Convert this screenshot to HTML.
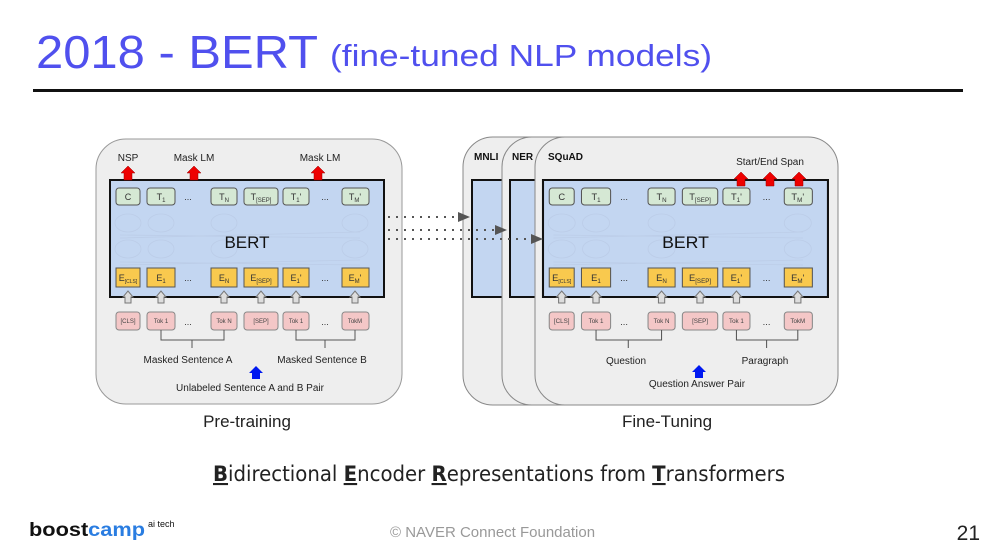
<!DOCTYPE html>
<html><head><meta charset="utf-8"><style>
body{margin:0;width:998px;height:553px;background:#fff;overflow:hidden;font-family:"Liberation Sans",sans-serif;}
</style></head><body>
<svg width="998" height="553" viewBox="0 0 998 553" xmlns="http://www.w3.org/2000/svg" font-family="Liberation Sans, sans-serif">
<defs>
<g id="bert">
  <rect x="0" y="0" width="274" height="117" fill="#c3d6f1" stroke="#111" stroke-width="2"/>
  <g fill="none" stroke="#bccde8" stroke-width="0.8">
    <ellipse cx="18" cy="43" rx="13" ry="9"/><ellipse cx="51" cy="43" rx="13" ry="9"/><ellipse cx="114" cy="43" rx="13" ry="9"/><ellipse cx="245" cy="43" rx="13" ry="9"/>
    <ellipse cx="18" cy="69" rx="13" ry="9"/><ellipse cx="51" cy="69" rx="13" ry="9"/><ellipse cx="114" cy="69" rx="13" ry="9"/><ellipse cx="245" cy="69" rx="13" ry="9"/>
    <path d="M10 55 L250 58 M10 58 L250 52 M10 82 L250 85 M10 85 L250 80"/>
  </g>
  <g fill="#d5e8d4" stroke="#555" stroke-width="1">
    <rect x="6" y="8" width="24" height="17" rx="3"/><rect x="37" y="8" width="28" height="17" rx="3"/>
    <rect x="101" y="8" width="26" height="17" rx="3"/><rect x="134" y="8" width="34" height="17" rx="3"/>
    <rect x="173" y="8" width="26" height="17" rx="3"/><rect x="232" y="8" width="27" height="17" rx="3"/>
  </g>
  <g font-size="9" fill="#333" text-anchor="middle">
    <text x="18" y="20">C</text><text x="51" y="20">T<tspan font-size="6" dy="2">1</tspan></text>
    <text x="114" y="20">T<tspan font-size="6" dy="2">N</tspan></text><text x="151" y="20">T<tspan font-size="6" dy="2">[SEP]</tspan></text>
    <text x="186" y="20">T<tspan font-size="6" dy="2">1</tspan><tspan dy="-2">'</tspan></text><text x="245" y="20">T<tspan font-size="6" dy="2">M</tspan><tspan dy="-2">'</tspan></text>
    <text x="78" y="20">...</text><text x="215" y="20">...</text>
    <text x="78" y="101">...</text><text x="215" y="101">...</text>
  </g>
  <text x="137" y="68" font-size="17" text-anchor="middle" fill="#111">BERT</text>
  <g fill="#f9c94e" stroke="#555" stroke-width="1">
    <rect x="6" y="88" width="24" height="19"/><rect x="37" y="88" width="28" height="19"/>
    <rect x="101" y="88" width="26" height="19"/><rect x="134" y="88" width="34" height="19"/>
    <rect x="173" y="88" width="26" height="19"/><rect x="232" y="88" width="27" height="19"/>
  </g>
  <g font-size="9" fill="#333" text-anchor="middle">
    <text x="18" y="101">E<tspan font-size="5" dy="2">[CLS]</tspan></text><text x="51" y="101">E<tspan font-size="6" dy="2">1</tspan></text>
    <text x="114" y="101">E<tspan font-size="6" dy="2">N</tspan></text><text x="151" y="101">E<tspan font-size="6" dy="2">[SEP]</tspan></text>
    <text x="186" y="101">E<tspan font-size="6" dy="2">1</tspan><tspan dy="-2">'</tspan></text><text x="245" y="101">E<tspan font-size="6" dy="2">M</tspan><tspan dy="-2">'</tspan></text>
  </g>
  <g fill="#ddd" stroke="#777" stroke-width="1">
    <path d="M13 117 L18 111 L23 117 L21 117 L21 123 L15 123 L15 117Z"/>
    <path d="M46 117 L51 111 L56 117 L54 117 L54 123 L48 123 L48 117Z"/>
    <path d="M109 117 L114 111 L119 117 L117 117 L117 123 L111 123 L111 117Z"/>
    <path d="M146 117 L151 111 L156 117 L154 117 L154 123 L148 123 L148 117Z"/>
    <path d="M181 117 L186 111 L191 117 L189 117 L189 123 L183 123 L183 117Z"/>
    <path d="M240 117 L245 111 L250 117 L248 117 L248 123 L242 123 L242 117Z"/>
  </g>
  <g fill="#f4c7c7" stroke="#888" stroke-width="1">
    <rect x="6" y="132" width="24" height="18" rx="3"/><rect x="37" y="132" width="28" height="18" rx="3"/>
    <rect x="101" y="132" width="26" height="18" rx="3"/><rect x="134" y="132" width="34" height="18" rx="3"/>
    <rect x="173" y="132" width="26" height="18" rx="3"/><rect x="232" y="132" width="27" height="18" rx="3"/>
  </g>
  <g font-size="6" fill="#444" text-anchor="middle">
    <text x="18" y="143">[CLS]</text><text x="51" y="143">Tok 1</text><text x="114" y="143">Tok N</text>
    <text x="151" y="143">[SEP]</text><text x="186" y="143">Tok 1</text><text x="245" y="143">TokM</text>
  </g>
  <g font-size="9" fill="#333" text-anchor="middle"><text x="78" y="145">...</text><text x="215" y="145">...</text></g>
  <path d="M51 150 V160 H114 V150 M82 160 V168 M186 150 V160 H245 V150 M215 160 V168" fill="none" stroke="#555" stroke-width="1"/>
</g>
</defs>

<text x="36" y="68" font-size="46" fill="#5050ee" textLength="282" lengthAdjust="spacingAndGlyphs">2018 - BERT</text>
<text x="330" y="66" font-size="31" fill="#5050ee" textLength="382" lengthAdjust="spacingAndGlyphs">(fine-tuned NLP models)</text>
<rect x="33" y="89" width="930" height="3" fill="#111"/>

<!-- Pre-training -->
<rect x="96" y="139" width="306" height="265" rx="30" fill="#eeeeee" stroke="#999" stroke-width="1"/>
<use href="#bert" x="110" y="180"/>
<g font-size="10" fill="#222" text-anchor="middle">
<text x="128" y="161">NSP</text><text x="194" y="161">Mask LM</text><text x="320" y="161">Mask LM</text>
<text x="188" y="363">Masked Sentence A</text><text x="322" y="363">Masked Sentence B</text>
<text x="250" y="391">Unlabeled Sentence A and B Pair</text>
</g>
<g fill="#e00" stroke="#900" stroke-width="0.5">
<path d="M121 173 L128 166 L135 173 L132 173 L132 180 L124 180 L124 173Z"/>
<path d="M187 173 L194 166 L201 173 L198 173 L198 180 L190 180 L190 173Z"/>
<path d="M311 173 L318 166 L325 173 L322 173 L322 180 L314 180 L314 173Z"/>
</g>
<path d="M249 373 L256 366 L263 373 L260 373 L260 379 L252 379 L252 373Z" fill="#0018f0"/>
<text x="247" y="427" font-size="17" text-anchor="middle" fill="#222">Pre-training</text>

<!-- Fine-tuning panels -->
<rect x="463" y="137" width="300" height="268" rx="30" fill="#eeeeee" stroke="#888"/>
<rect x="472" y="180" width="285" height="117" fill="#c3d6f1" stroke="#111" stroke-width="2"/>
<rect x="502" y="137" width="300" height="268" rx="30" fill="#eeeeee" stroke="#888"/>
<rect x="510" y="180" width="285" height="117" fill="#c3d6f1" stroke="#111" stroke-width="2"/>
<rect x="535" y="137" width="303" height="268" rx="30" fill="#eeeeee" stroke="#888"/>
<g transform="translate(543,180) scale(1.04,1)"><use href="#bert"/></g>
<g font-size="10" font-weight="bold" fill="#111">
<text x="474" y="160">MNLI</text><text x="512" y="160">NER</text><text x="548" y="160">SQuAD</text>
</g>
<g font-size="10" fill="#222" text-anchor="middle">
<text x="770" y="165">Start/End Span</text>
<text x="626" y="364">Question</text><text x="765" y="364">Paragraph</text>
<text x="697" y="387">Question Answer Pair</text>
</g>
<g fill="#e00" stroke="#900" stroke-width="0.5">
<path d="M734 179 L741 172 L748 179 L745 179 L745 186 L737 186 L737 179Z"/>
<path d="M763 179 L770 172 L777 179 L774 179 L774 186 L766 186 L766 179Z"/>
<path d="M792 179 L799 172 L806 179 L803 179 L803 186 L795 186 L795 179Z"/>
</g>
<path d="M692 372 L699 365 L706 372 L703 372 L703 378 L695 378 L695 372Z" fill="#0018f0"/>
<text x="667" y="427" font-size="17" text-anchor="middle" fill="#222">Fine-Tuning</text>

<!-- dotted arrows -->
<g stroke="#555" stroke-width="2" stroke-dasharray="2,6" fill="none">
<path d="M388 217 H460"/><path d="M388 230 H498"/><path d="M388 239 H533"/>
</g>
<g fill="#555">
<path d="M458 212 L470 217 L458 222Z"/><path d="M495 225 L507 230 L495 235Z"/><path d="M531 234 L543 239 L531 244Z"/>
</g>

<text x="213" y="481" font-size="21" fill="#222" textLength="572" lengthAdjust="spacingAndGlyphs" font-family="DejaVu Sans Condensed, DejaVu Sans, sans-serif"><tspan font-weight="bold" text-decoration="underline">B</tspan>idirectional <tspan font-weight="bold" text-decoration="underline">E</tspan>ncoder <tspan font-weight="bold" text-decoration="underline">R</tspan>epresentations from <tspan font-weight="bold" text-decoration="underline">T</tspan>ransformers</text>

<text x="29" y="536" font-size="19" font-weight="bold" fill="#111" textLength="116" lengthAdjust="spacingAndGlyphs">boost<tspan fill="#2a7de1">camp</tspan></text>
<text x="148" y="527" font-size="9" fill="#111">ai tech</text>
<text x="390" y="537" font-size="15" fill="#999">©  NAVER Connect Foundation</text>
<text x="980" y="540" font-size="21" text-anchor="end" fill="#222">21</text>
</svg>
</body></html>
